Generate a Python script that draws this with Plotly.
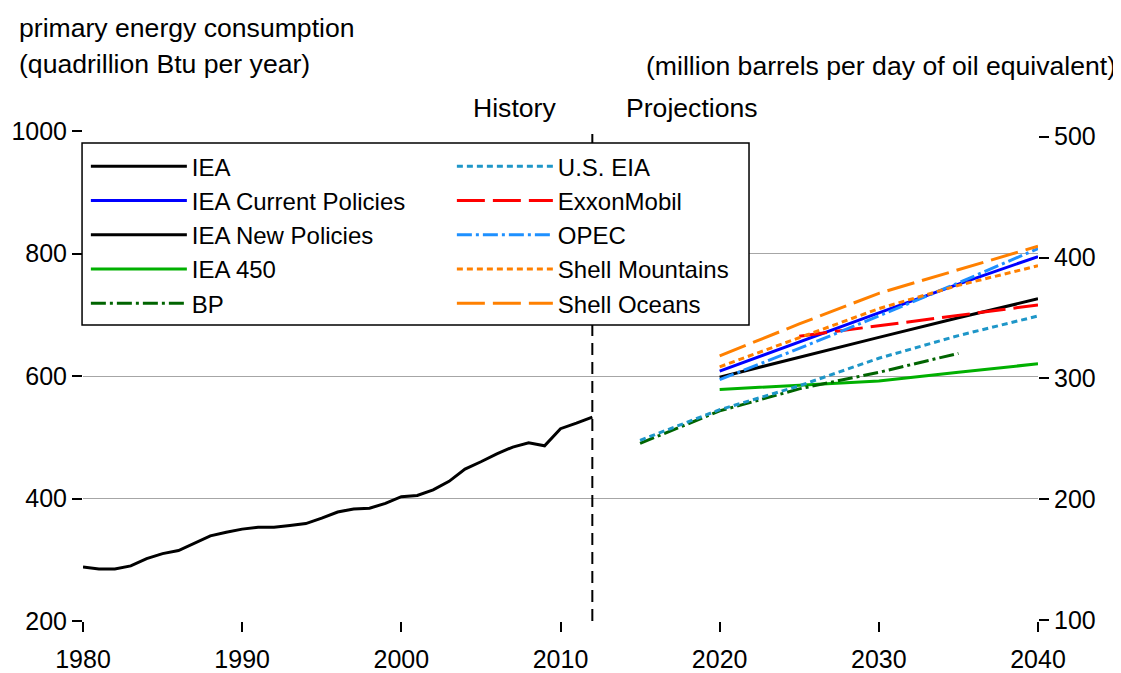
import plotly.graph_objects as go

# history (world primary energy consumption, quadrillion Btu)
history_years = list(range(1980, 2013))
history_values = [288, 285, 285, 290, 302, 310, 315, 327, 339, 345,
                  350, 353, 353, 356, 359, 368, 378, 383, 384, 392,
                  403, 405, 414, 428, 448, 460, 473, 484, 491, 486,
                  514, 523, 533]

proj_years = [2020, 2025, 2030, 2035, 2040]
iea_current = [608, 656, 703, 750, 795]
iea_new = [598, 631, 663, 695, 726]
iea_450 = [578, 585, 592, 606, 620]
opec = [594, 645, 698, 752, 808]
shell_mountains = [615, 662, 710, 748, 780]
shell_oceans = [633, 685, 735, 773, 812]

exxon_years = [2025, 2040]
exxon = [665, 716]

eia_years = [2015, 2020, 2025, 2030, 2035, 2040]
us_eia = [495, 545, 584, 629, 666, 698]
bp_years = [2015, 2020, 2025, 2030, 2035]
bp = [490, 543, 579, 606, 637]

FONT = "Liberation Sans, Arial, sans-serif"

# name, x, y, colour, dash, legend rank (two columns, filled row by row)
series = [
    ("IEA", history_years, history_values, "black", "solid", 1),
    ("IEA New Policies", proj_years, iea_new, "black", "solid", 5),
    ("IEA Current Policies", proj_years, iea_current, "#0000ff", "solid", 3),
    ("IEA 450", proj_years, iea_450, "#00b000", "solid", 7),
    ("BP", bp_years, bp, "#006400", "15px,4px,3px,4px", 9),
    ("U.S. EIA", eia_years, us_eia, "#1e96c8", "6px,4px", 2),
    ("ExxonMobil", exxon_years, exxon, "#ff0000", "28px,8px", 4),
    ("OPEC", proj_years, opec, "#1e90ff", "15px,4px,3px,4px", 6),
    ("Shell Mountains", proj_years, shell_mountains, "#ff8000", "6px,4px", 8),
    ("Shell Oceans", proj_years, shell_oceans, "#ff8000", "28px,8px", 10),
]

fig = go.Figure()
for name, xs, ys, color, dash, rank in series:
    fig.add_trace(go.Scatter(
        x=xs, y=ys, name=name, mode="lines",
        line=dict(color=color, width=3, dash=dash),
        legendrank=rank,
    ))

# empty trace so the right-hand (oil equivalent) axis gets drawn
fig.add_trace(go.Scatter(x=[], y=[], yaxis="y2", showlegend=False,
                         hoverinfo="skip"))

# history / projections divider
fig.add_shape(type="line", xref="x", yref="paper",
              x0=history_years[-1], x1=history_years[-1], y0=0, y1=1,
              line=dict(color="black", width=2, dash="12px,7px"))
# legend frame (plotly's own box can't be made narrower than its columns)
fig.add_shape(type="rect", xref="paper", yref="paper",
              x0=-0.001, x1=0.6974, y0=0.6041, y1=0.9755, layer="above",
              line=dict(color="black", width=1.5), fillcolor="white")

fig.add_annotation(x=history_years[-1], y=1.047, xref="x", yref="paper",
                   text="History", showarrow=False, xanchor="right",
                   yanchor="middle", xshift=-34)
fig.add_annotation(x=history_years[-1], y=1.047, xref="x", yref="paper",
                   text="Projections", showarrow=False, xanchor="left",
                   yanchor="middle", xshift=32)
fig.add_annotation(x=-0.069, y=1.21, xref="paper", yref="paper",
                   text="primary energy consumption", showarrow=False,
                   xanchor="left", yanchor="middle")
fig.add_annotation(x=-0.069, y=1.137, xref="paper", yref="paper",
                   text="(quadrillion Btu per year)", showarrow=False,
                   xanchor="left", yanchor="middle")
fig.add_annotation(x=1.0835, y=1.133, xref="paper", yref="paper",
                   text="(million barrels per day of oil equivalent)",
                   showarrow=False, xanchor="right", yanchor="middle")

# page body has an 8px margin, so the figure is 8px smaller than the window
fig.update_layout(
    width=1113, height=665,
    margin=dict(l=75, r=83, t=123, b=52),
    plot_bgcolor="white", paper_bgcolor="white",
    font=dict(family=FONT, size=26.6, color="black"),
    legend=dict(
        orientation="h", x=0.003, y=0.973, xanchor="left", yanchor="top",
        entrywidth=255, entrywidthmode="pixels", itemwidth=96,
        borderwidth=0, bgcolor="rgba(0,0,0,0)",
        font=dict(size=24), traceorder="normal",
    ),
    xaxis=dict(
        range=[1980, 2040], tickvals=list(range(1980, 2041, 10)),
        showgrid=False, zeroline=False, showline=False, automargin=False,
        ticks="outside", ticklen=10, tickwidth=1.5, tickcolor="black",
        tickfont=dict(size=25), ticklabelstandoff=6,
    ),
    yaxis=dict(
        range=[200, 1000], tickvals=list(range(200, 1001, 200)),
        showgrid=True, gridcolor="#a6a6a6", gridwidth=1, automargin=False,
        zeroline=False, showline=False,
        ticks="outside", ticklen=10, tickwidth=1.5, tickcolor="black",
        tickfont=dict(size=25),
    ),
    yaxis2=dict(
        range=[99.2, 504.7], tickvals=list(range(100, 501, 100)),
        overlaying="y", side="right", showgrid=False, zeroline=False,
        showline=False, ticks="outside", ticklen=10, tickwidth=1.5,
        tickcolor="black", tickfont=dict(size=25), automargin=False,
    ),
)

fig.write_html("out.html")
